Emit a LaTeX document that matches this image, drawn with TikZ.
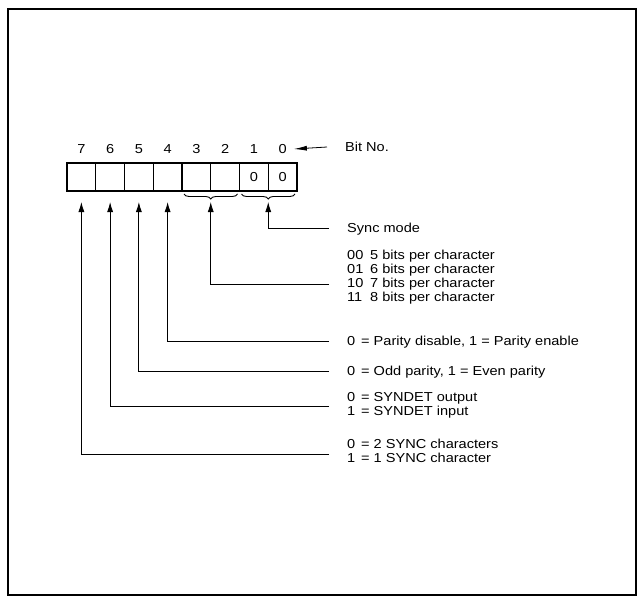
\documentclass[tikz,border=0pt]{standalone}
\usepackage{fontspec}
\setmainfont{Liberation Sans}[FakeStretch=1.12]
\usetikzlibrary{arrows.meta,decorations.pathreplacing,calc}
\begin{document}
\begin{tikzpicture}[x=1pt,y=-1pt,
  txt/.style={inner sep=0pt,font=\fontsize{13}{14}\selectfont},
  lbl/.style={txt,anchor=base west},
  cell/.style={draw,line width=1.2pt,minimum width=28.75pt,minimum height=28pt,inner sep=0pt,outer sep=0pt,font=\fontsize{13}{14}\selectfont},
  conn/.style={line width=0.8pt},
  tip/.style={-{Latex[length=10pt,width=6pt]}},
  brc/.style={decorate,decoration={brace,amplitude=5pt,mirror},line width=0.9pt}]
\useasboundingbox (0,0) rectangle (637,597);
\draw[line width=1.2pt] (8,9) rectangle (636,595);
% register cells and bit numbers
\foreach \b in {7,...,0}{
  \pgfmathsetmacro{\cx}{67+(7-\b)*28.75+14.375}
  \node[txt] (n\b) at (\cx,149) {\b};
}
\node[cell] (c7) at (81.375,177) {};
\node[cell] (c6) at (110.125,177) {};
\node[cell] (c5) at (138.875,177) {};
\node[cell] (c4) at (167.625,177) {};
\node[cell] (c3) at (196.375,177) {};
\node[cell] (c2) at (225.125,177) {};
\node[cell] (c1) at (253.875,177) {0};
\node[cell] (c0) at (282.625,177) {0};
% bit no
\node[txt,anchor=west] (bitno) at (345,147) {Bit No.};
\draw[conn,-{Latex[length=13pt,width=5pt]}] ([xshift=-18pt]bitno.west) -- ([xshift=7pt]n0.east);
% braces
\draw[brc] ([xshift=2pt,yshift=-3pt]c3.south west) -- ([xshift=-2pt,yshift=-3pt]c2.south east);
\draw[brc] ([xshift=2pt,yshift=-3pt]c1.south west) -- ([xshift=-2pt,yshift=-3pt]c0.south east);
% arrow tips
\coordinate (t10) at ($(c1.south east)+(0,11)$);
\coordinate (t32) at ($(c3.south east)+(0,11)$);
\coordinate (t4) at ($(c4.south)+(0,11)$);
\coordinate (t5) at ($(c5.south)+(0,11)$);
\coordinate (t6) at ($(c6.south)+(0,11)$);
\coordinate (t7) at ($(c7.south)+(0,11)$);
% label line ends
\coordinate (e10) at (329,228);
\coordinate (e32) at (329,284);
\coordinate (e4) at (329,341);
\coordinate (e5) at (329,371);
\coordinate (e6) at (329,406);
\coordinate (e7) at (329,454);
\foreach \k in {10,32,4,5,6,7}{
  \draw[conn,tip] (e\k) -| (t\k);
}
% texts
\node[lbl] (s0) at (347,232.6) {Sync mode};
\node[lbl] (m00) at (347,259.6) {00};
\node[lbl] (m00t) at (370,259.6) {5 bits per character};
\node[lbl] (m01) at (347,273.6) {01};
\node[lbl] (m01t) at (370,273.6) {6 bits per character};
\node[lbl] (m10) at (347,287.6) {10};
\node[lbl] (m10t) at (370,287.6) {7 bits per character};
\node[lbl] (m11) at (347,301.6) {11};
\node[lbl] (m11t) at (370,301.6) {8 bits per character};
\node[lbl] (p0) at (347,345.6) {0};
\node[lbl] (p0t) at (361,345.6) {= Parity disable, 1 = Parity enable};
\node[lbl] (o0) at (347,375.6) {0};
\node[lbl] (o0t) at (361,375.6) {= Odd parity, 1 = Even parity};
\node[lbl] (d0) at (347,401.6) {0};
\node[lbl] (d0t) at (361,401.6) {= SYNDET output};
\node[lbl] (d1) at (347,415.6) {1};
\node[lbl] (d1t) at (361,415.6) {= SYNDET input};
\node[lbl] (y0) at (347,448.6) {0};
\node[lbl] (y0t) at (361,448.6) {= 2 SYNC characters};
\node[lbl] (y1) at (347,462.6) {1};
\node[lbl] (y1t) at (361,462.6) {= 1 SYNC character};
\end{tikzpicture}
\end{document}
